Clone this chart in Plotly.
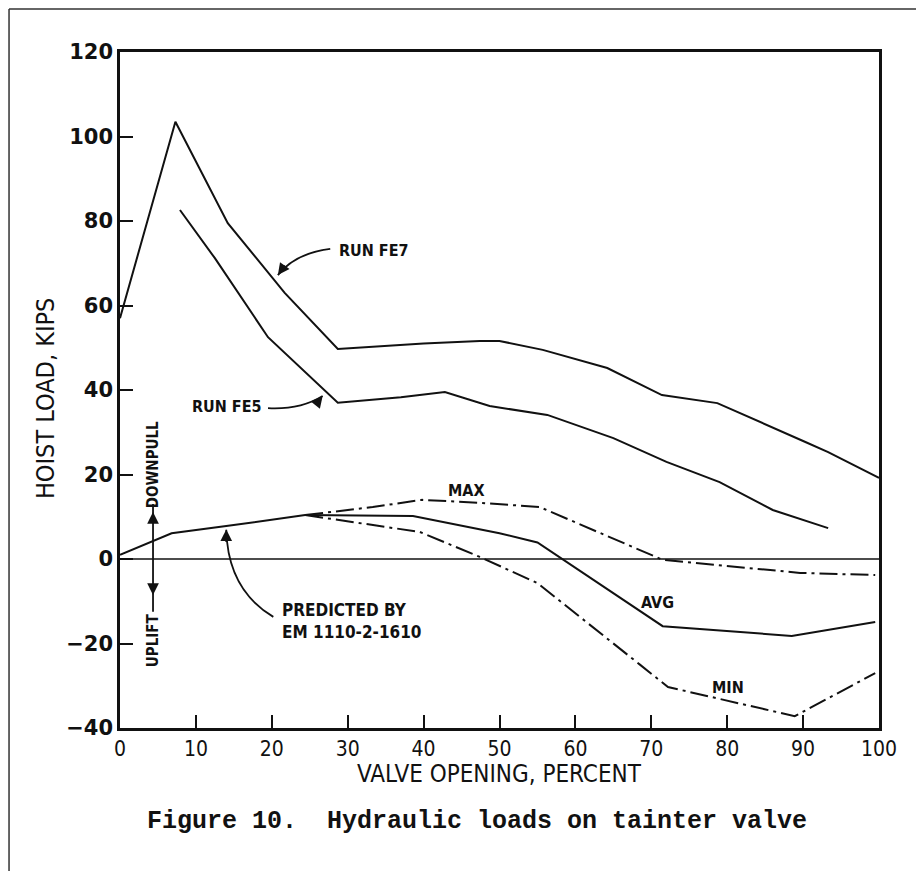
import plotly.graph_objects as go

# values
fe7_x = [0, 7.3, 14.2, 21.7, 28.7, 40, 47.4, 50, 55.7, 64.2, 71.4, 78.7, 90.3, 93.3, 100]
fe7_y = [57, 103.5, 79.5, 63, 49.7, 51, 51.6, 51.6, 49.5, 45.2, 38.8, 36.9, 27.7, 25.3, 19.2]

fe5_x = [7.9, 12.5, 19.5, 28.7, 37, 42.8, 48.7, 56.3, 65, 72, 79, 86, 93.3]
fe5_y = [82.6, 71.2, 52.5, 37, 38.3, 39.5, 36.2, 34.1, 28.6, 23, 18.2, 11.6, 7.3]

pred_x = [0, 6.8, 14, 24.4]
pred_y = [1, 6.1, 7.8, 10.4]

avg_x = [24.4, 38.6, 50, 55, 71.5, 88.5, 99.5]
avg_y = [10.4, 10.2, 6.1, 3.9, -15.9, -18.2, -14.9]

max_x = [24.4, 33.3, 39.8, 47.4, 55.3, 71.5, 89.6, 99.5]
max_y = [10.4, 12.3, 14, 13.3, 12.3, -0.2, -3.3, -3.8]

min_x = [24.4, 39.5, 47.4, 55, 68.5, 72.2, 88.9, 99.5]
min_y = [10.4, 6.4, 0.5, -5.7, -25, -30.3, -37.2, -27]

x_ticks = list(range(0, 101, 10))
y_ticks = list(range(-40, 121, 20))

INK = "#111111"
NARROW = "DejaVu Sans Condensed, Liberation Sans Narrow, DejaVu Sans"
DASHDOT = "18px,5px,3px,5px"

fig = go.Figure()
fig.add_hline(y=0, line=dict(color=INK, width=1.3))
fig.add_trace(go.Scatter(x=fe7_x, y=fe7_y, mode="lines", line=dict(color=INK, width=2)))
fig.add_trace(go.Scatter(x=fe5_x, y=fe5_y, mode="lines", line=dict(color=INK, width=2)))
fig.add_trace(go.Scatter(x=pred_x, y=pred_y, mode="lines", line=dict(color=INK, width=2)))
fig.add_trace(go.Scatter(x=avg_x, y=avg_y, mode="lines", line=dict(color=INK, width=2)))
fig.add_trace(go.Scatter(x=max_x, y=max_y, mode="lines", line=dict(color=INK, width=2, dash=DASHDOT)))
fig.add_trace(go.Scatter(x=min_x, y=min_y, mode="lines", line=dict(color=INK, width=2, dash=DASHDOT)))

lbl = dict(family=NARROW, size=16, color=INK, weight="bold")

# curved leader lines
leaders = [
    "M 27.7,73.4 Q 23.1,72.4 20.8,67.2",
    "M 19.5,35.7 Q 23.7,35.3 26.7,38.6",
    "M 20.2,-13.7 Q 14.2,-7.3 14.0,6.9",
]
for p in leaders:
    fig.add_shape(type="path", path=p, xref="x", yref="y", line=dict(color=INK, width=1.8))

# up/down leader for DOWNPULL / UPLIFT
fig.add_shape(type="line", x0=4.35, x1=4.35, y0=13, y1=-12.5, xref="x", yref="y", line=dict(color=INK, width=1.8))

heads = [(20.8, 67.2, 8, -11), (26.7, 38.6, -8, 10), (14.0, 7.0, 0, 14), (4.35, 11.1, 0, 12), (4.35, -8.5, 0, -12)]
for hx, hy, dx, dy in heads:
    fig.add_annotation(x=hx, y=hy, ax=dx, ay=dy, text="", showarrow=True, arrowhead=2,
                       arrowsize=1.3, arrowwidth=1.8, arrowcolor=INK, standoff=0)

fig.add_annotation(x=28.6, y=73.1, text="RUN FE7", showarrow=False, xanchor="left", font=lbl)
fig.add_annotation(x=19.0, y=36, text="RUN FE5", showarrow=False, xanchor="right", font=lbl)
fig.add_annotation(x=45.7, y=16.1, text="MAX", showarrow=False, font=lbl)
fig.add_annotation(x=70.8, y=-10.4, text="AVG", showarrow=False, font=lbl)
fig.add_annotation(x=80.1, y=-30.3, text="MIN", showarrow=False, font=lbl)
fig.add_annotation(x=21.1, y=-14.7, text="PREDICTED BY<br>EM 1110-2-1610", showarrow=False,
                   xanchor="left", align="left", font=dict(family=NARROW, size=17, color=INK, weight="bold"))
fig.add_annotation(x=4.35, y=22.2, text="DOWNPULL", textangle=-90, showarrow=False, font=dict(family=NARROW, size=15, color=INK, weight="bold"))
fig.add_annotation(x=4.35, y=-19.2, text="UPLIFT", textangle=-90, showarrow=False, font=dict(family=NARROW, size=15, color=INK, weight="bold"))

# axis titles and caption
fig.add_annotation(xref="paper", yref="paper", x=-0.0988, y=0.488, xanchor="center", yanchor="middle",
                   text="HOIST LOAD, KIPS", textangle=-90, showarrow=False, font=dict(family=NARROW, size=25, color=INK))
fig.add_annotation(xref="paper", yref="paper", x=0.5, y=-0.0685, xanchor="center", yanchor="middle",
                   text="VALVE OPENING, PERCENT", showarrow=False, font=dict(family=NARROW, size=24, color=INK))
fig.add_annotation(xref="paper", yref="paper", x=0.47, y=-0.139, xanchor="center", yanchor="middle",
                   text="Figure 10.  Hydraulic loads on tainter valve", showarrow=False,
                   font=dict(family="Liberation Mono", size=25, color=INK, weight="bold"))

# page frame of the scan
fig.add_shape(type="line", xref="paper", yref="paper", x0=-0.1462, x1=1.08, y0=1.0636, y1=1.0636, line=dict(color="#333333", width=1.5))
fig.add_shape(type="line", xref="paper", yref="paper", x0=-0.1462, x1=-0.1462, y0=1.0636, y1=-0.23, line=dict(color="#333333", width=1.5))

fig.update_xaxes(range=[0, 100], tickvals=x_ticks, ticks="inside", ticklen=13, tickwidth=2, tickcolor=INK,
                 showline=True, linecolor=INK, linewidth=2.5, mirror=True, showgrid=False, zeroline=False,
                 tickfont=dict(family=NARROW, size=21, color=INK))
fig.update_yaxes(range=[-40, 120], tickvals=y_ticks, ticks="inside", ticklen=13, tickwidth=2, tickcolor=INK,
                 showline=True, linecolor=INK, linewidth=2.5, mirror=True, showgrid=False, zeroline=False,
                 tickfont=dict(family="DejaVu Sans", size=21, color=INK, weight="bold"))
# body margin of the page is 8px, so the figure is offset to land the plot box where the scan has it
fig.update_layout(width=924, height=871, margin=dict(l=112, r=53, t=44, b=151), showlegend=False,
                  plot_bgcolor="white", paper_bgcolor="white")

fig.write_html("out.html")
